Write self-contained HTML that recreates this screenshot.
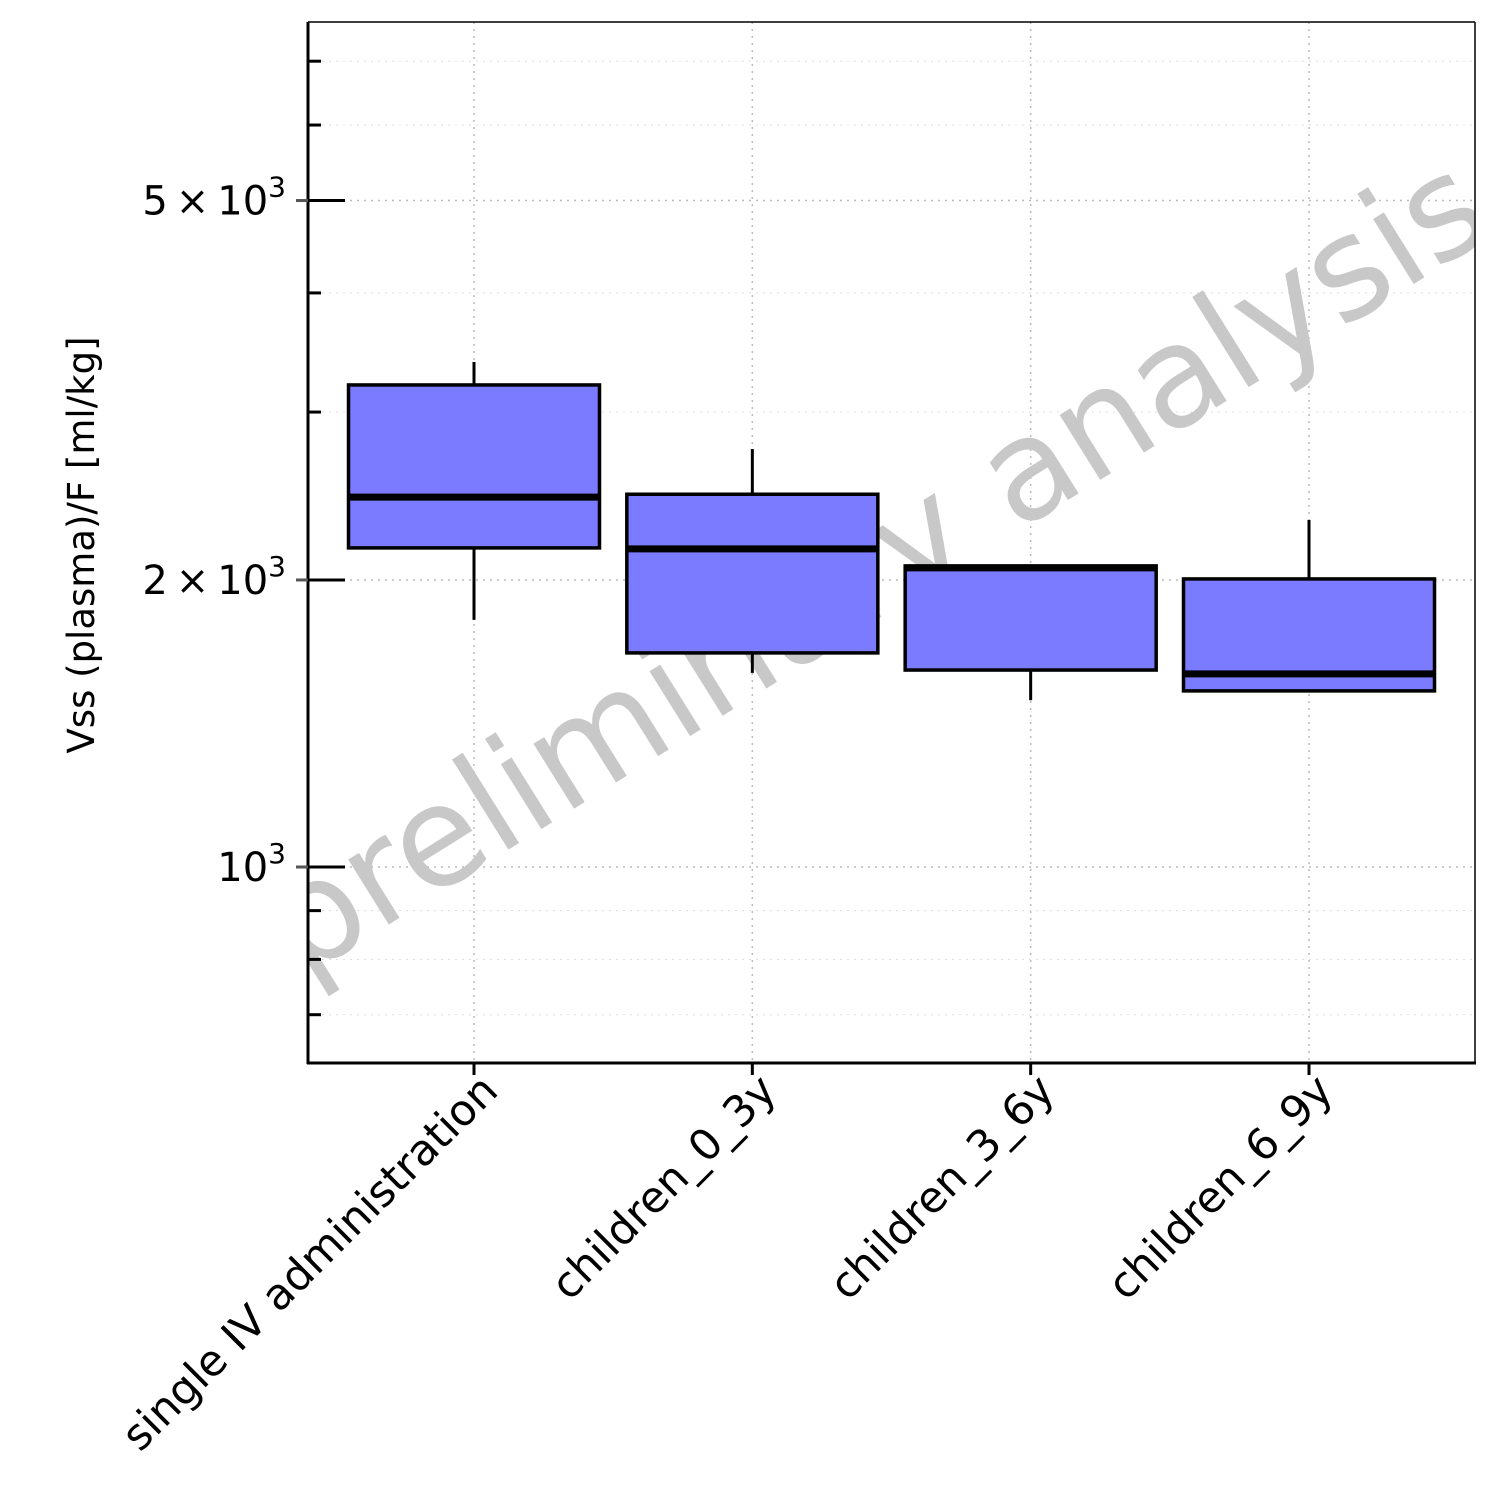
<!DOCTYPE html>
<html><head><meta charset="utf-8"><style>
html,body{margin:0;padding:0;background:#fff;}
svg{display:block;font-family:"DejaVu Sans","Liberation Sans",sans-serif;}
</style></head><body>
<svg id="chart" width="1500" height="1500" viewBox="0 0 1500 1500" xmlns="http://www.w3.org/2000/svg">
<defs><clipPath id="pc"><rect x="308" y="22" width="1167" height="1041"/></clipPath></defs>
<g id="grid"></g>
<g clip-path="url(#pc)">
<text x="0" y="0" transform="translate(900,605) rotate(-32)" text-anchor="middle" font-size="140" fill="#c8c8c8">preliminary analysis</text>
</g>
<g id="boxes"></g>
<g id="axes"></g>
<text transform="translate(94,545) rotate(-90)" text-anchor="middle" font-size="37" fill="#000">Vss (plasma)/F [ml/kg]</text>
</svg>
<script>
const categories = ["single IV administration","children_0_3y","children_3_6y","children_6_9y"];
const whiskerLow = [1816,1598,1496,1530];
const q1 = [2161,1677,1609,1530];
const median = [2443,2156,2059,1594];
const q3 = [3203,2460,2069,2005];
const whiskerHigh = [3386,2744,2069,2312];
const majorTicks = [1000,2000,5000];
const majorLabels = [["10","3"],["2\u2009×\u200910","3"],["5\u2009×\u200910","3"]];
const minorTicks = [700,800,900,3000,4000,6000,7000];

const NS="http://www.w3.org/2000/svg";
const L=308,R=1475,T=22,B=1063;
function y(v){return 867-(Math.log10(v)-3)*953.5;}
const pad=166;
function x(i){return L+pad+i*(R-L-2*pad)/(categories.length-1);}
function mk(tag,attrs,parent){const e=document.createElementNS(NS,tag);for(const k in attrs)e.setAttribute(k,attrs[k]);parent.appendChild(e);return e;}
const grid=document.getElementById('grid'),boxes=document.getElementById('boxes'),axes=document.getElementById('axes');
mk('rect',{x:L,y:T,width:R-L,height:B-T,fill:'#fff'},grid);
majorTicks.forEach(v=>{const g=mk('line',{x1:L,x2:R,y1:y(v),y2:y(v),stroke:'#bbb','stroke-width':1.5,'stroke-dasharray':'2,5'},grid);

});
minorTicks.forEach(v=>{const g=mk('line',{x1:L,x2:R,y1:y(v),y2:y(v),stroke:'#ddd','stroke-width':1,'stroke-dasharray':'2,5'},grid);

});
categories.forEach((c,i)=>{const g=mk('line',{x1:x(i),x2:x(i),y1:T,y2:B,stroke:'#bbb','stroke-width':1.5,'stroke-dasharray':'2,5'},grid);

});
const bw=251;
categories.forEach((c,i)=>{
 const cx=x(i);
 const g=mk('g',{},boxes);
 
 
 mk('line',{x1:cx,x2:cx,y1:y(whiskerHigh[i]),y2:y(q3[i]),stroke:'#000','stroke-width':3},g);
 mk('line',{x1:cx,x2:cx,y1:y(q1[i]),y2:y(whiskerLow[i]),stroke:'#000','stroke-width':3},g);
 mk('rect',{x:cx-bw/2,y:y(q3[i]),width:bw,height:y(q1[i])-y(q3[i]),fill:'#7b7bff',stroke:'#000','stroke-width':3.5},g);
 mk('line',{x1:cx-bw/2,x2:cx+bw/2,y1:y(median[i]),y2:y(median[i]),stroke:'#000','stroke-width':7},g);
});
mk('line',{x1:L,x2:L,y1:T,y2:B+1,stroke:'#000','stroke-width':3},axes);
mk('line',{x1:L-1,x2:R+1,y1:B,y2:B,stroke:'#000','stroke-width':3},axes);
mk('line',{x1:R,x2:R,y1:T,y2:B,stroke:'#000','stroke-width':1.5},axes);
mk('line',{x1:L,x2:R,y1:T,y2:T,stroke:'#000','stroke-width':1.5},axes);
majorTicks.forEach((v,i)=>{
 mk('line',{x1:L-12,x2:L,y1:y(v),y2:y(v),stroke:'#555','stroke-width':3},axes);
 mk('line',{x1:L,x2:L+37,y1:y(v),y2:y(v),stroke:'#000','stroke-width':3},axes);
 const t=mk('text',{x:L-22,y:y(v)+14,'text-anchor':'end','font-size':40,fill:'#000'},axes);
 
 
 const a=document.createElementNS(NS,'tspan');a.textContent=majorLabels[i][0];t.appendChild(a);
 const b=document.createElementNS(NS,'tspan');b.setAttribute('dy','-18');b.setAttribute('font-size','28');b.textContent=majorLabels[i][1];t.appendChild(b);
});
minorTicks.forEach(v=>{mk('line',{x1:L,x2:L+13,y1:y(v),y2:y(v),stroke:'#000','stroke-width':3},axes);});
categories.forEach((c,i)=>{
 mk('line',{x1:x(i),x2:x(i),y1:B,y2:B+12,stroke:'#000','stroke-width':3},axes);
 const t=mk('text',{x:0,y:0,transform:`translate(${x(i)+26},${B+30}) rotate(-45)`,'text-anchor':'end','font-size':43,fill:'#000'},axes);
 
 
 t.textContent=c;
});
</script>
</body></html>
